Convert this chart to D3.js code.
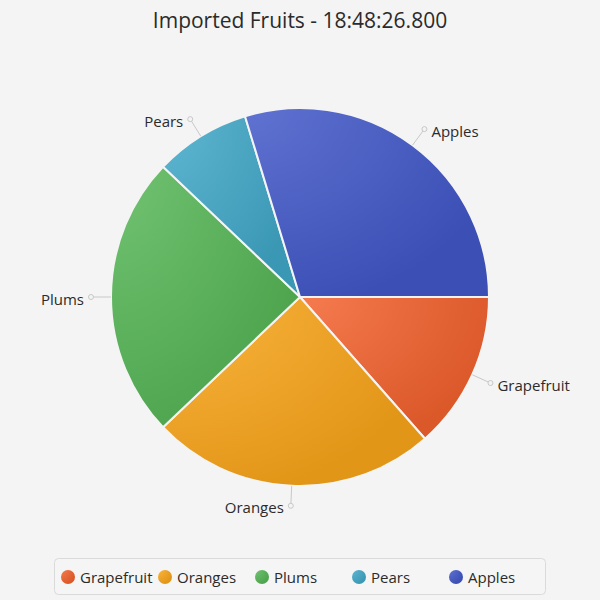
<!DOCTYPE html>
<html>
<head>
<meta charset="utf-8">
<script src="https://cdn.jsdelivr.net/npm/d3@7"></script>
<style>
  body { margin: 0; background: #f4f4f4; }
  svg text { font-family: "Open Sans", sans-serif; fill: #2b2b2b; }
</style>
</head>
<body>
<div id="chart"></div>
<script>
// data
var fruits = ["Grapefruit", "Oranges", "Plums", "Pears", "Apples"];
var amounts = [13.5, 24.4, 24.2, 8.2, 29.7];
var colors = ["#f3622d", "#fba71b", "#57b757", "#41a9c9", "#4258c9"];
var title = "Imported Fruits - 18:48:26.800";

var svgWidth = 600, svgHeight = 600;
var cx = 300, cy = 297, radius = 189;
var lineLen = 20;

var svg = d3.select("#chart").append("svg")
  .attr("width", svgWidth)
  .attr("height", svgHeight);

var data = fruits.map(function (f, i) { return { name: f, value: amounts[i], color: colors[i] }; });

// gradients like the JavaFX default pie style
var defs = svg.append("defs");
data.forEach(function (d, i) {
  var g = defs.append("radialGradient")
    .attr("id", "grad" + i)
    .attr("gradientUnits", "objectBoundingBox")
    .attr("cx", 0).attr("cy", 0).attr("r", 1.1)
    .attr("fx", 0).attr("fy", 0);
  g.append("stop").attr("offset", "0%").attr("stop-color", d3.interpolateRgb(d.color, "#fff")(0.16));
  g.append("stop").attr("offset", "100%").attr("stop-color", d3.interpolateRgb(d.color, "#000")(0.1));
});

svg.append("text")
  .attr("x", svgWidth / 2)
  .attr("y", 28)
  .attr("text-anchor", "middle")
  .style("font-size", "21px")
  .text(title);

// JavaFX starts at 3 o'clock going clockwise
var pie = d3.pie()
  .sort(null)
  .value(function (d) { return d.value; })
  .startAngle(Math.PI / 2)
  .endAngle(Math.PI / 2 + 2 * Math.PI);

var arc = d3.arc().innerRadius(0).outerRadius(radius);
var arcs = pie(data);

var chartGroup = svg.append("g")
  .attr("transform", `translate(${cx}, ${cy})`);

chartGroup.selectAll("path.slice")
  .data(arcs)
  .enter()
  .append("path")
  .attr("class", "slice")
  .attr("d", arc)
  .attr("fill", function (d, i) { return "url(#grad" + i + ")"; })
  .attr("stroke", "#f4f4f4")
  .attr("stroke-width", 2);

// label lines
function midPoint(d, r) {
  var a = (d.startAngle + d.endAngle) / 2;
  return [Math.sin(a) * r, -Math.cos(a) * r];
}

var labels = chartGroup.selectAll("g.lbl")
  .data(arcs)
  .enter()
  .append("g")
  .attr("class", "lbl");

labels.append("line")
  .attr("x1", function (d) { return midPoint(d, radius)[0]; })
  .attr("y1", function (d) { return midPoint(d, radius)[1]; })
  .attr("x2", function (d) { return midPoint(d, radius + lineLen)[0]; })
  .attr("y2", function (d) { return midPoint(d, radius + lineLen)[1]; })
  .attr("stroke", "#c8c8c8")
  .attr("stroke-width", 1);

labels.append("circle")
  .attr("cx", function (d) { return midPoint(d, radius + lineLen)[0]; })
  .attr("cy", function (d) { return midPoint(d, radius + lineLen)[1]; })
  .attr("r", 2.5)
  .attr("fill", "#f4f4f4")
  .attr("stroke", "#c8c8c8")
  .attr("stroke-width", 1);

labels.append("text")
  .attr("x", function (d) {
    var p = midPoint(d, radius + lineLen);
    return p[0] >= 0 ? p[0] + 7 : p[0] - 7;
  })
  .attr("y", function (d) { return midPoint(d, radius + lineLen)[1] + 7.5; })
  .attr("text-anchor", function (d) { return midPoint(d, radius)[0] >= 0 ? "start" : "end"; })
  .style("font-size", "15px")
  .text(function (d) { return d.data.name; });

// legend
var legend = svg.append("g");
legend.append("rect")
  .attr("x", 54.5).attr("y", 558.5)
  .attr("width", 491).attr("height", 36)
  .attr("rx", 4)
  .attr("fill", "#f5f5f5")
  .attr("stroke", "#dadada");

var legendX = d3.scaleBand().domain(fruits).range([61, 546]).paddingInner(0);

var items = legend.selectAll("g.item")
  .data(data)
  .enter()
  .append("g")
  .attr("class", "item")
  .attr("transform", function (d) { return `translate(${legendX(d.name)}, 577)`; });

items.append("circle")
  .attr("cx", 7).attr("cy", 0).attr("r", 7)
  .attr("fill", function (d, i) { return "url(#grad" + i + ")"; });

items.append("text")
  .attr("x", 19)
  .attr("y", 5.5)
  .style("font-size", "15px")
  .text(function (d) { return d.name; });
</script>
</body>
</html>
